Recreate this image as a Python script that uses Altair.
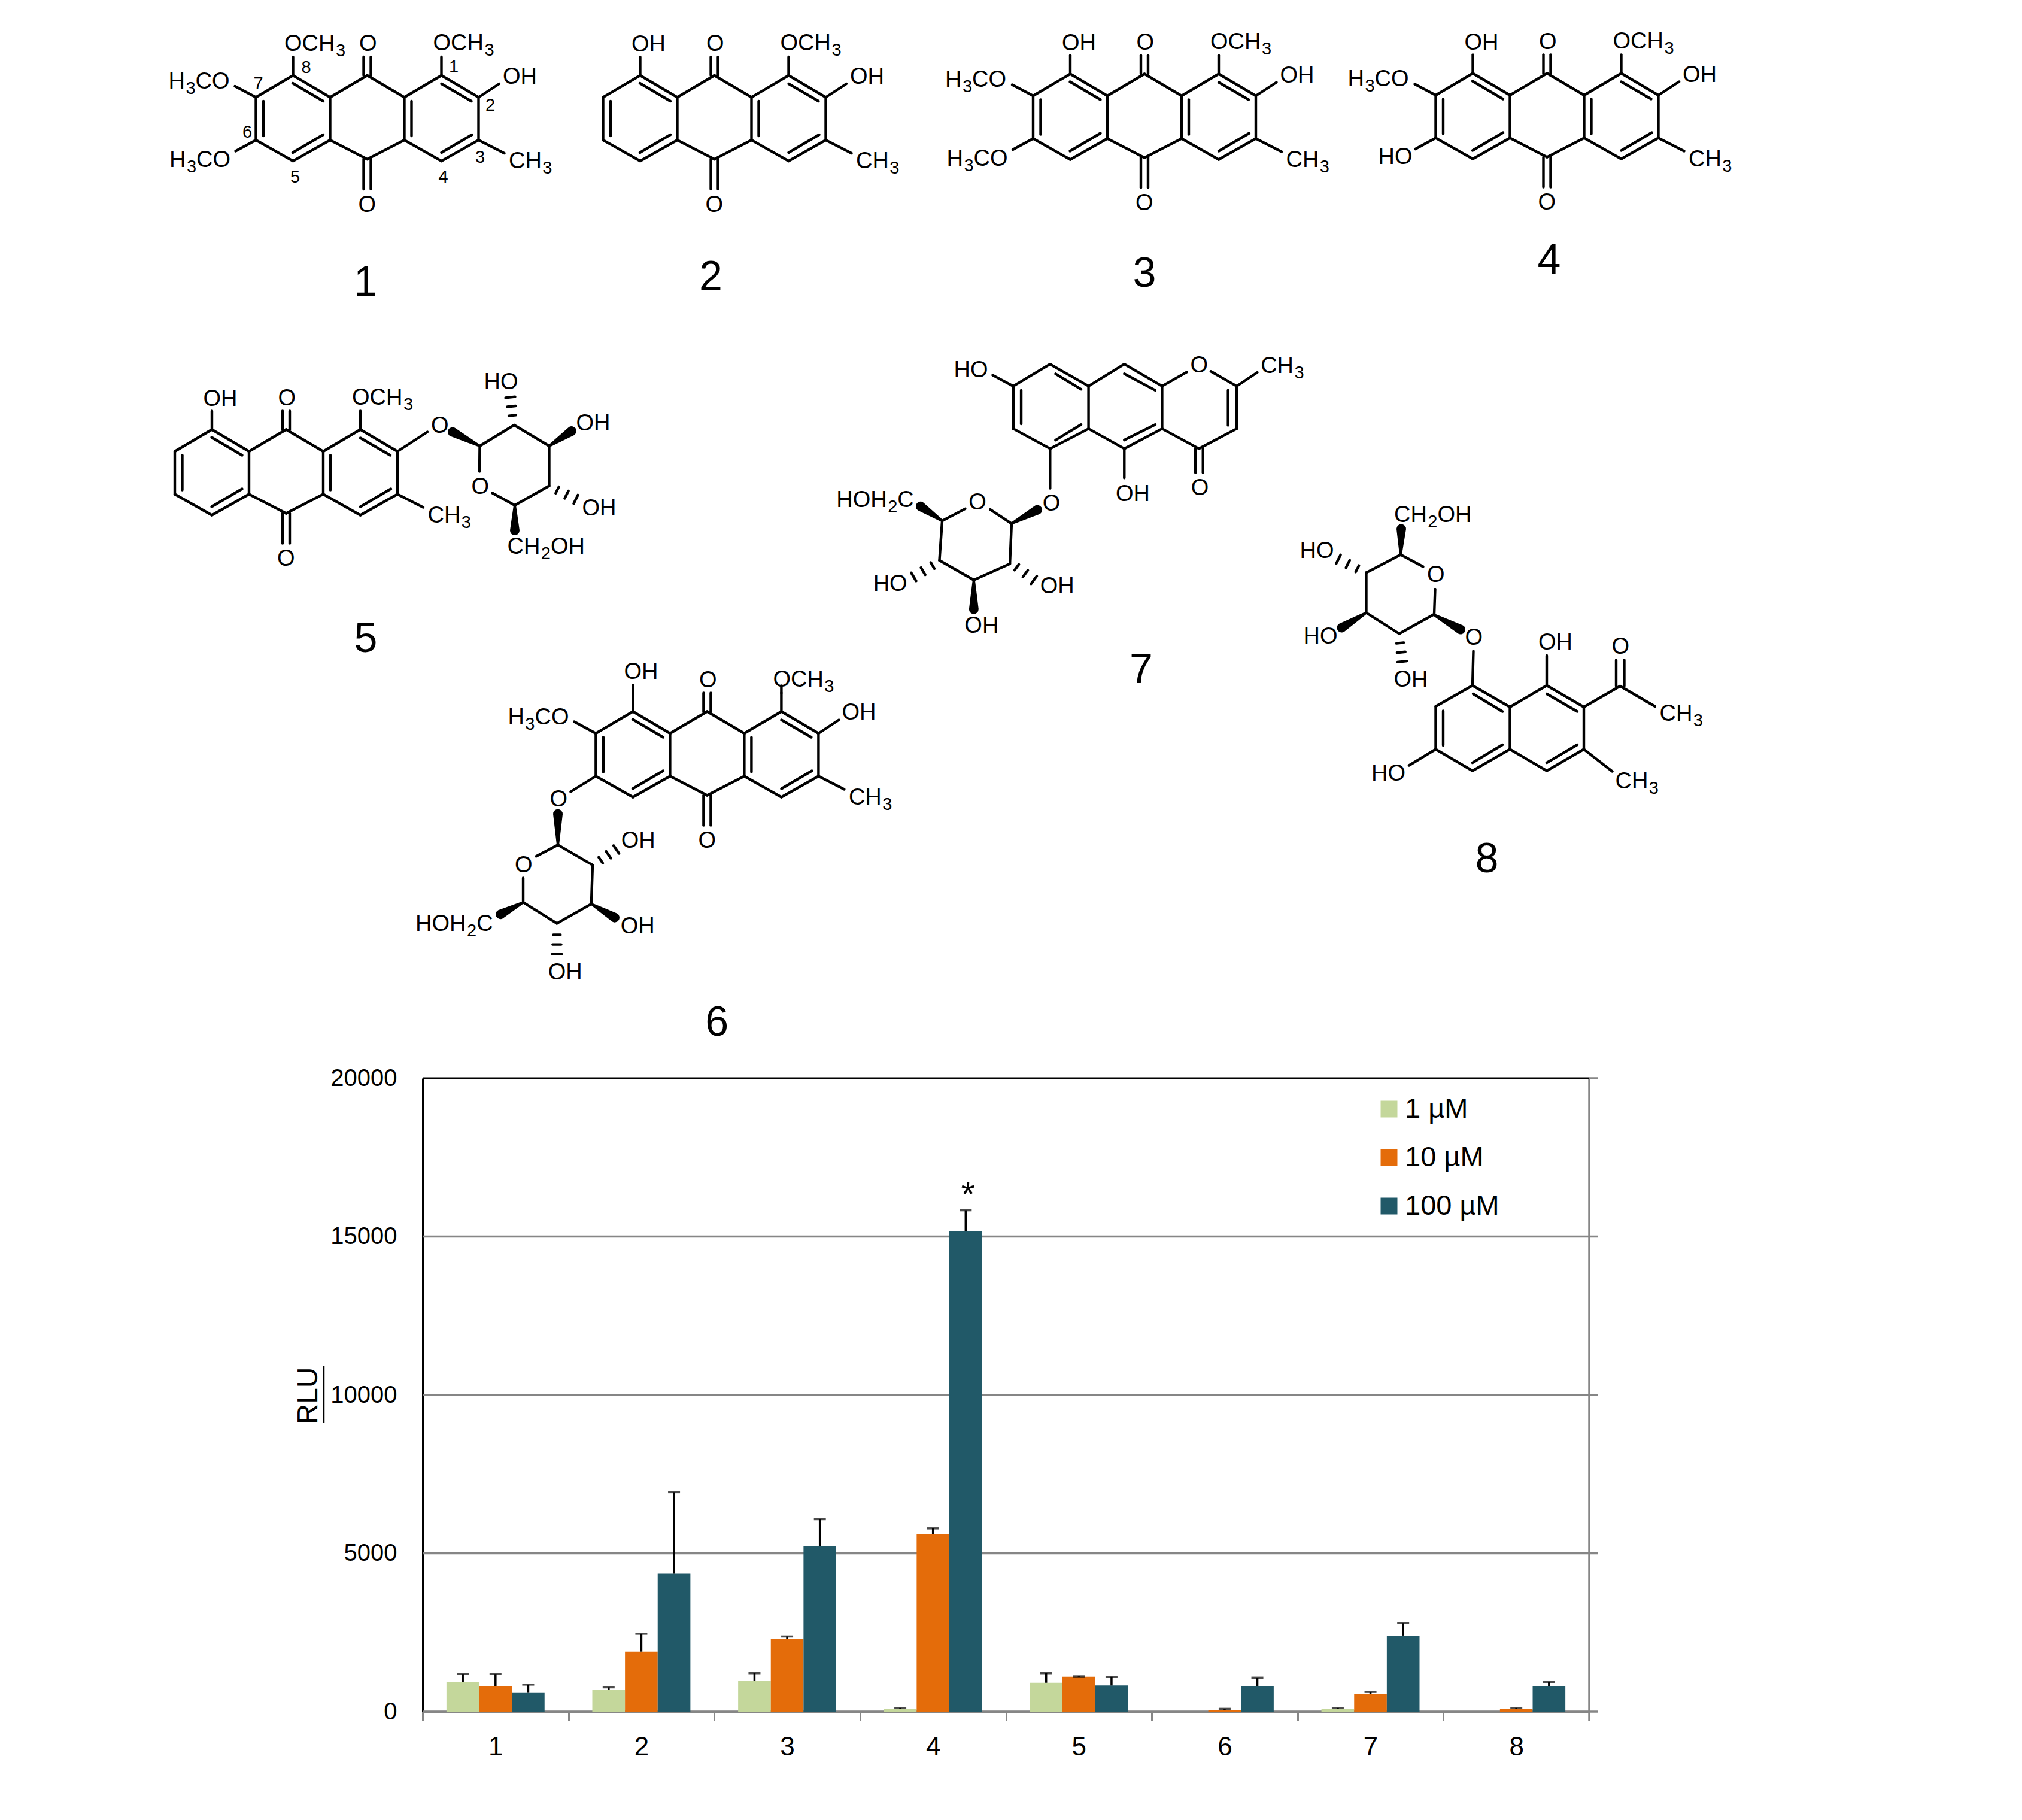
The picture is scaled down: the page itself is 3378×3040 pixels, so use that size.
import altair as alt
import pandas as pd

# ---------- bar chart values ----------
COMPOUNDS = ["1", "2", "3", "4", "5", "6", "7", "8"]
CONCS = ["1 µM", "10 µM", "100 µM"]
COLORS = ["#c4d79b", "#e46c0a", "#215968"]
VAL_1 = [926, 680, 970, 87, 912, 0, 87, 0]
TOP_1 = [1187, 767, 1215, 116, 1215, None, 116, None]
VAL_10 = [796, 1896, 2301, 5600, 1100, 58, 550, 87]
TOP_10 = [1187, 2460, 2373, 5788, 1114, 87, 622, 116]
VAL_100 = [593, 4356, 5224, 15165, 825, 796, 2402, 796]
TOP_100 = [854, 6931, 6078, 15831, 1100, 1071, 2793, 940]
GRID = [0, 5000, 10000, 15000]
RIGHT_TICKS = [0, 5000, 10000, 15000, 20000]

rows = []
for conc, vals, tops in zip(CONCS, [VAL_1, VAL_10, VAL_100], [TOP_1, TOP_10, TOP_100]):
    for c, v, t in zip(COMPOUNDS, vals, tops):
        rows.append({"cat": c, "conc": conc, "val": v, "top": t})
bars_df = pd.DataFrame(rows)
err_df = bars_df[bars_df["top"].notna()]

PW, PH = 1949, 1058      # plot area
LEFT, TOP = 698, 1793    # padding
FONT = "Liberation Sans"

# ---------- structure drawing (picture coordinates) ----------
segs, wedges, labels, bigs = [], [], [], []
FS, SUB_FS = 38, 29
ADV = {"O": 0.778, "C": 0.722, "H": 0.722}


def add_seg(x1, y1, x2, y2):
    segs.append({"x": x1, "y": y1, "x2": x2, "y2": y2})


def add_wedge(x1, y1, x2, y2):
    i = len(wedges)
    wedges.append({"id": i, "k": 0, "x": x1, "y": y1, "w": 4})
    wedges.append({"id": i, "k": 1, "x": x2, "y": y2, "w": 16})


def add_hash(x1, y1, x2, y2, n=3):
    dx, dy = x2 - x1, y2 - y1
    ln = (dx * dx + dy * dy) ** 0.5
    nx, ny = -dy / ln, dx / ln
    for i in range(n):
        t = i / (n - 1)
        cx, cy = x1 + dx * t, y1 + dy * t
        h = 6 + 2 * t
        add_seg(cx - nx * h, cy - ny * h, cx + nx * h, cy + ny * h)


def add_text(x, y, s, fs=FS):
    labels.append({"x": x, "y": y, "t": s, "fs": fs})


def add_formula(x, y, s):
    """Chemical label, with digits set as subscripts."""
    run = ""
    for ch in s:
        if ch.isdigit():
            add_text(x, y, run)
            x += sum(ADV[k] for k in run) * FS + 1.5
            add_text(x, y + 9, ch, SUB_FS)
            x += 0.556 * SUB_FS
            run = ""
        else:
            run += ch
    if run:
        add_text(x, y, run)


class Crop:

    def __init__(self, ox, oy, s):
        self.ox, self.oy, self.s = ox, oy, s

    def p(self, x, y):
        return self.ox + x / self.s, self.oy + y / self.s

    def seg(self, *items):
        for a, b, c, d in items:
            add_seg(*self.p(a, b), *self.p(c, d))

    def wedge(self, *items):
        for a, b, c, d in items:
            add_wedge(*self.p(a, b), *self.p(c, d))

    def hashed(self, *items):
        for a, b, c, d in items:
            add_hash(*self.p(a, b), *self.p(c, d))

    def text(self, *items):
        for x, y, s in items:
            add_formula(*self.p(x, y), s)

    def big(self, x, y, s):
        px, py = self.p(x, y)
        bigs.append({"x": px, "y": py, "t": s})


# anthraquinone core, relative to the upper carbonyl carbon
A, B, C, D, E, F = (-124, 0), (-186, 36.5), (-186, 108), (-124, 143), (-62, 108), (-62, 36.5)
G, H, I, J = (0, 0), (0, 140), (62, 36.5), (62, 108)
K, L, M, N = (124, 0), (186, 36.5), (186, 108), (124, 143)
AQ_PATHS = [(A, B), (B, C), (C, D), (D, E), (E, F), (F, A), (F, G), (G, I), (I, J), (J, H), (H, E),
            (I, K), (K, L), (L, M), (M, N), (N, J)]
AQ_INNER = [(-124.5, 13, -73.5, 43), (-173.5, 43, -173.5, 101), (-124.5, 129, -73.5, 99),
            (74, 43, 74, 101), (124, 14, 174, 43), (124, 129, 175, 99),
            (-6, -31, -6, 0), (6, -31, 6, 0), (-6, 140, -6, 190), (6, 140, 6, 190)]


def core(ox, oy):
    c = Crop(ox, oy, 1)
    for a, b in AQ_PATHS:
        c.seg((a[0], a[1], b[0], b[1]))
    c.seg(*AQ_INNER)
    # substituents shared by compounds 1-6
    c.seg((-124, 0, -124, -31), (124, 0, 124, -31), (186, 108, 229, 130))
    c.text((-13.5, -41, "O"), (-15, 227.5, "O"), (110, -42, "OCH3"), (236.5, 155, "CH3"))
    return c


# compound 1
c = core(613.5, 126)
c.seg((186, 36.5, 220.5, 14), (-186, 36.5, -221, 18), (-186, 108, -220, 126.5))
c.text((226.5, 14, "OH"), (-138.5, -41, "OCH3"), (-332, 21.5, "H3CO"), (-330.5, 153, "H3CO"))
for x, y, s in [(507, 203, "8"), (347, 258, "7"), (1000, 202, "1"), (1122, 330, "2"),
                (310, 420, "6"), (1088, 503, "3"), (470, 570, "5"), (965, 570, "4")]:
    add_text(250 + x / 2, 20 + y / 2, s, 29)
bigs.append({"x": 610.5, "y": 494, "t": "1"})

# compound 2
c = core(1193.5, 126)
c.seg((186, 36.5, 220.5, 14))
c.text((226.5, 14, "OH"), (-138.5, -40, "OH"))
bigs.append({"x": 1187.5, "y": 485, "t": "2"})

# compound 3
c = core(1912, 123.5)
c.seg((186, 36.5, 220.5, 14), (-186, 36.5, -221, 18), (-186, 108, -220, 126.5))
c.text((226.5, 14, "OH"), (-138, -40, "OH"), (-333, 21.5, "H3CO"), (-330.5, 153, "H3CO"))
bigs.append({"x": 1912, "y": 479, "t": "3"})

# compound 4
c = core(2584.5, 122.5)
c.seg((186, 36.5, 220.5, 14), (-186, 36.5, -221, 18), (-186, 108, -220, 126.5))
c.text((226.5, 14, "OH"), (-138, -40, "OH"), (-333, 21.5, "H3CO"), (-282, 151.5, "HO"))
bigs.append({"x": 2588, "y": 456.5, "t": "4"})

# compound 5
c = core(478, 717.5)
c.seg((186, 36.5, 236, 4))
c.text((242, 5, "O"), (-138.5, -40, "OH"))
z = Crop(270, 600, 2)
z.seg((1063, 290, 1178, 220), (1178, 220, 1295, 290), (1295, 290, 1295, 423), (1295, 423, 1180, 488),
      (1180, 488, 1105, 447), (1062, 375, 1063, 290))
z.wedge((1063, 290, 972, 243), (1295, 290, 1370, 240), (1180, 488, 1180, 572))
z.hashed((1172, 188, 1165, 127), (1322, 437, 1384, 468))
z.text((1077, 100, "HO"), (1385, 238, "OH"), (1405, 522, "OH"), (1155, 650, "CH2OH"), (1035, 450, "O"))
z.big(682, 978, "5")

# compound 6
c = core(1181.4, 1188.5)
c.seg((186, 36.5, 220, 14), (-186, 36.5, -222, 17), (-186, 108, -228, 134), (-124, -31, -124, -44), (124, -31, 124, -43))
c.text((225, 13.5, "OH"), (-139, -55, "OH"), (-333, 21.7, "H3CO"))
z = Crop(680, 1060, 1.845)
z.seg((465, 648, 572, 710), (572, 710, 568, 830), (568, 830, 462, 890), (462, 890, 358, 825),
      (358, 825, 358, 750), (398, 683, 465, 648))
z.wedge((465, 648, 465, 553), (568, 830, 640, 872), (358, 825, 288, 862))
z.hashed((597, 695, 645, 662), (462, 925, 462, 985))
z.text((660, 657, "OH"), (658, 920, "OH"), (435, 1062, "OH"), (26, 913, "HOH2C"), (332, 733, "O"), (440, 530, "O"))
z.big(955, 1236, "6")

# compound 7
z = Crop(1380, 560, 1.742)
z.seg((652, 84, 545, 148), (545, 148, 545, 272), (545, 272, 652, 330), (652, 330, 764, 272), (764, 272, 764, 148),
      (764, 148, 652, 84), (764, 148, 868, 84), (868, 84, 978, 148), (978, 148, 978, 272), (978, 272, 868, 330),
      (868, 330, 764, 272), (978, 148, 1050, 107), (1120, 105, 1195, 148), (1195, 148, 1195, 272),
      (1195, 272, 1085, 330), (1085, 330, 978, 272),
      (668, 112, 742, 157), (568, 160, 568, 258), (668, 305, 742, 260), (868, 112, 958, 160), (868, 305, 958, 260),
      (1170, 160, 1170, 262), (1075, 330, 1075, 400), (1097, 330, 1097, 400),
      (545, 148, 485, 116), (1195, 148, 1255, 108), (868, 330, 868, 415), (652, 330, 652, 445),
      (540, 548, 478, 507), (405, 505, 338, 540), (338, 540, 330, 655), (330, 655, 430, 712),
      (430, 712, 535, 665), (535, 665, 540, 548))
z.wedge((540, 548, 615, 508), (338, 540, 275, 498), (430, 712, 430, 797))
z.hashed((310, 670, 255, 703), (555, 675, 605, 712))
z.text((372, 122, "HO"), (1265, 110, "CH3"), (1060, 108, "O"), (843, 482, "OH"), (1062, 465, "O"), (630, 510, "O"),
       (415, 507, "O"), (30, 500, "HOH2C"), (137, 743, "HO"), (623, 750, "OH"), (403, 865, "OH"))
z.big(917, 1012, "7")

# compound 8
z = Crop(2150, 800, 2)
z.seg((620, 690, 497, 760), (497, 760, 497, 903), (497, 903, 620, 975), (620, 975, 745, 903), (745, 903, 745, 762),
      (745, 762, 620, 690), (745, 762, 868, 690), (868, 690, 992, 762), (992, 762, 992, 903), (992, 903, 868, 975),
      (868, 975, 745, 903),
      (622, 718, 720, 777), (522, 775, 522, 890), (620, 948, 720, 888), (868, 718, 970, 777), (868, 948, 970, 888),
      (620, 690, 623, 575), (868, 690, 868, 590), (992, 762, 1113, 692), (1113, 692, 1230, 760),
      (1100, 692, 1100, 605), (1127, 692, 1127, 605), (992, 903, 1087, 977), (497, 903, 408, 957),
      (380, 253, 455, 293), (495, 368, 492, 453), (490, 453, 375, 517), (375, 517, 265, 447),
      (265, 447, 265, 313), (265, 313, 380, 253))
z.wedge((490, 453, 580, 503), (380, 253, 382, 167), (265, 447, 183, 497))
z.hashed((235, 300, 172, 268), (378, 548, 385, 610))
z.text((840, 570, "OH"), (1085, 583, "O"), (1245, 808, "CH3"), (1097, 1033, "CH3"), (282, 1007, "HO"), (595, 553, "O"),
       (358, 143, "CH2OH"), (43, 263, "HO"), (55, 550, "HO"), (357, 693, "OH"), (468, 343, "O"))
z.big(668, 1313, "8")

# scales that place picture coordinates around the plot area
PX = alt.Scale(domain=[0, 3378], range=[-706, 2672], nice=False, zero=False)
PY = alt.Scale(domain=[0, 3040], range=[-1801, 1239], nice=False, zero=False)


def X(f):
    return alt.X(f, type="quantitative", scale=PX, axis=None)


def Y(f):
    return alt.Y(f, type="quantitative", scale=PY, axis=None)


seg_layer = alt.Chart(pd.DataFrame(segs)).mark_rule(color="black", strokeWidth=4.4, strokeCap="round").encode(
    x=X("x"), y=Y("y"), x2="x2:Q", y2="y2:Q")
wedge_layer = alt.Chart(pd.DataFrame(wedges)).mark_trail(color="black").encode(
    x=X("x"), y=Y("y"), detail="id:N", order="k:Q", size=alt.Size("w:Q", scale=None))
text_layer = alt.Chart(pd.DataFrame(labels)).mark_text(
    align="left", baseline="alphabetic", font=FONT, color="black").encode(
    x=X("x"), y=Y("y"), text="t:N", size=alt.Size("fs:Q", scale=None))
big_layer = alt.Chart(pd.DataFrame(bigs)).mark_text(
    align="center", baseline="alphabetic", font=FONT, color="black", fontSize=70).encode(
    x=X("x"), y=Y("y"), text="t:N")

# ---------- bar chart ----------
GRAY = "#868686"
ys = alt.Scale(domain=[0, 20000], nice=False)
xs = alt.Scale(domain=COMPOUNDS, paddingInner=0, paddingOuter=0)
xo = alt.Scale(domain=CONCS, paddingInner=0, paddingOuter=0.73)
xaxis = alt.Axis(title=None, labelAngle=0, labelFont=FONT, labelFontSize=44, labelColor="black", tickBand="extent",
                 tickSize=15, tickWidth=3, tickColor=GRAY, domainColor=GRAY, domainWidth=3.5, labelPadding=22)
yaxis = alt.Axis(title="RLU", values=RIGHT_TICKS, format="d", grid=False, ticks=False, domainColor="black", domainWidth=3,
                 labelFont=FONT, labelFontSize=40, labelColor="black", labelPadding=43,
                 titleFont=FONT, titleFontSize=48, titleFontWeight="normal", titleColor="black",
                 titleX=-167, titleY=530, titleBaseline="bottom")

grid = alt.Chart(pd.DataFrame({"v": GRID})).mark_rule(color=GRAY, strokeWidth=3.5).encode(
    y=alt.Y("v:Q", scale=ys, axis=yaxis), x=alt.value(0), x2=alt.value(PW))
rticks = alt.Chart(pd.DataFrame({"v": RIGHT_TICKS})).mark_rule(color=GRAY, strokeWidth=3.5).encode(
    y=alt.Y("v:Q", scale=ys, axis=None), x=alt.value(PW), x2=alt.value(PW + 14))
right = alt.Chart(pd.DataFrame({"v": [0]})).mark_rule(color=GRAY, strokeWidth=3.5).encode(
    x=alt.value(PW), y=alt.value(0), y2=alt.value(PH + 15))
topline = alt.Chart(pd.DataFrame({"v": [0]})).mark_rule(color="black", strokeWidth=3).encode(
    x=alt.value(0), x2=alt.value(PW), y=alt.value(0))
underline = alt.Chart(pd.DataFrame({"v": [0]})).mark_rule(color="black", strokeWidth=2.5).encode(
    x=alt.value(-165), y=alt.value(480), y2=alt.value(576))

bars = alt.Chart(bars_df).mark_bar().encode(
    x=alt.X("cat:N", scale=xs, axis=xaxis, sort=COMPOUNDS),
    xOffset=alt.XOffset("conc:N", sort=CONCS, scale=xo),
    y=alt.Y("val:Q", scale=ys, axis=None),
    color=alt.Color("conc:N", scale=alt.Scale(domain=CONCS, range=COLORS), sort=CONCS,
                    legend=alt.Legend(title=None, orient="none", legendX=1591, legendY=28, symbolType="square",
                                      symbolSize=784, symbolStrokeWidth=0, labelFont=FONT, labelFontSize=47, labelColor="black",
                                      rowPadding=33, labelOffset=3)),
)
err = alt.Chart(err_df).mark_rule(color="black", strokeWidth=3.5).encode(
    x=alt.X("cat:N", scale=xs, axis=None, sort=COMPOUNDS),
    xOffset=alt.XOffset("conc:N", sort=CONCS, scale=xo),
    y=alt.Y("top:Q", scale=ys, axis=None), y2="val:Q")
caps = alt.Chart(err_df).mark_tick(color="black", thickness=3.5, size=20, orient="horizontal").encode(
    x=alt.X("cat:N", scale=xs, axis=None, sort=COMPOUNDS),
    xOffset=alt.XOffset("conc:N", sort=CONCS, scale=xo),
    y=alt.Y("top:Q", scale=ys, axis=None))
star = alt.Chart(pd.DataFrame({"cat": ["4"], "conc": ["100 µM"], "v": [16300], "t": ["*"]})).mark_text(
    font=FONT, fontSize=60, color="black", baseline="middle", dx=-12).encode(
    x=alt.X("cat:N", scale=xs, axis=None, sort=COMPOUNDS),
    xOffset=alt.XOffset("conc:N", sort=CONCS, scale=xo),
    y=alt.Y("v:Q", scale=ys, axis=None), text="t:N")

chart = alt.layer(grid, bars, err, caps, star, rticks, right, topline, underline,
                  seg_layer, wedge_layer, text_layer, big_layer).resolve_scale(
    x="independent", y="independent", xOffset="independent").properties(
    width=PW, height=PH,
    padding={"left": LEFT, "top": TOP, "right": 3362 - LEFT - PW, "bottom": 3024 - TOP - PH},
    autosize=alt.AutoSizeParams(type="none"),
    background="white",
).configure_view(stroke=None)

chart.save("out.html", embed_options={"renderer": "svg", "actions": False})
